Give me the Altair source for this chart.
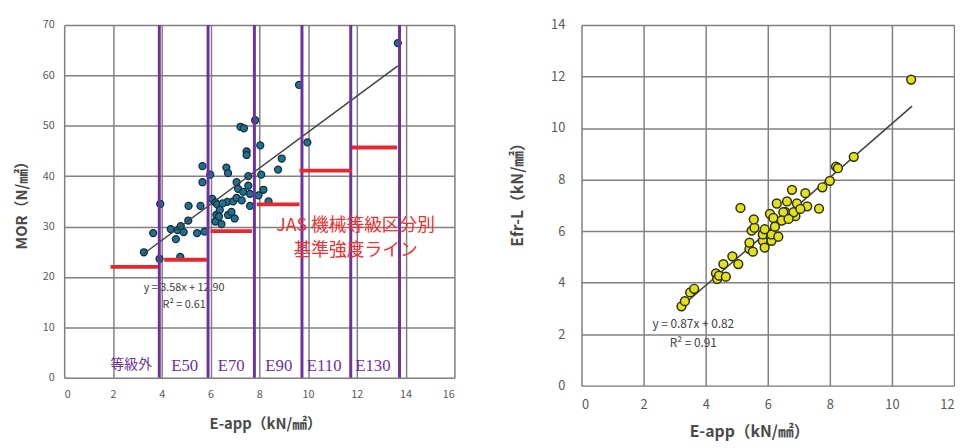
import altair as alt
import pandas as pd

# ---- Left panel: MOR vs E-app ----
mor_x = [3.27, 3.65, 3.91, 3.94, 4.37, 4.58, 4.65, 4.76, 4.78, 4.90, 5.09, 5.10, 5.45, 5.59,
         5.67, 5.67, 5.75, 5.99, 6.07, 6.20, 6.28, 6.24, 6.20, 6.38, 6.45, 6.65, 6.72, 6.69,
         6.72, 6.86, 6.99, 6.93, 7.07, 7.07, 7.13, 7.23, 7.37, 7.34, 7.28, 7.48, 7.48, 7.55,
         7.55, 7.62, 7.62, 7.83, 7.97, 8.04, 8.08, 8.17, 8.38, 8.77, 8.92, 9.63, 9.97, 13.68,
         6.50, 6.35]
mor_y = [24.9, 28.7, 23.6, 34.5, 29.5, 27.5, 29.3, 24.0, 30.1, 28.9, 31.2, 34.1, 28.7, 34.1,
         38.8, 42.0, 29.0, 40.3, 35.5, 34.8, 34.4, 32.3, 31.0, 33.3, 30.5, 41.7, 40.6, 34.9,
         32.3, 32.9, 31.6, 35.0, 35.7, 38.8, 37.5, 49.8, 49.5, 36.9, 35.2, 44.9, 44.2, 40.0,
         38.1, 36.5, 34.1, 51.1, 36.2, 46.1, 40.3, 37.3, 35.0, 41.3, 43.5, 58.1, 46.7, 66.4,
         34.6, 32.0]
mor_trend_x = [3.26, 13.68]
mor_trend_y = [24.6, 61.9]

grade_bounds = [3.9, 5.9, 7.8, 9.75, 11.75, 13.75]
grade_names = ["E50", "E70", "E90", "E110", "E130"]
grade_label_x = [4.94, 6.85, 8.8, 10.66, 12.66]
grade_label_y = [2.3, 2.3, 2.3, 2.3, 2.3]
outside_name = ["等級外"]
outside_x = [2.75]
outside_y = [2.6]
std_x1 = [1.9, 4.1, 6.0, 7.9, 9.65, 11.8]
std_x2 = [3.85, 5.85, 7.7, 9.65, 11.8, 13.65]
std_y = [22.0, 23.4, 29.1, 34.4, 41.1, 45.7]

# ---- Right panel: Efr-L vs E-app ----
efr_x = [3.22, 3.33, 3.50, 3.63, 4.33, 4.37, 4.43, 4.65, 4.57, 5.05, 4.86, 5.41, 5.52, 5.41,
         5.48, 5.57, 5.84, 5.90, 6.12, 5.84, 6.12, 5.90, 6.23, 6.34, 6.07, 6.18, 6.56, 6.89,
         6.29, 6.62, 6.94, 7.27, 7.65, 6.78, 7.21, 7.76, 8.00, 8.20, 8.26, 8.77, 10.62, 5.12,
         6.50, 6.83, 7.05, 6.45, 6.67, 5.55]
efr_y = [3.08, 3.28, 3.62, 3.76, 4.36, 4.14, 4.27, 4.23, 4.72, 4.72, 5.02, 5.30, 5.20, 5.55,
         6.02, 6.13, 5.62, 5.36, 5.62, 5.87, 5.87, 6.07, 6.17, 5.78, 6.67, 6.51, 6.74, 6.58,
         7.07, 7.15, 7.07, 6.96, 6.87, 7.60, 7.47, 7.70, 7.95, 8.50, 8.44, 8.88, 11.88, 6.90,
         6.73, 6.73, 6.86, 6.41, 6.47, 6.45]
efr_trend_x = [3.2, 10.65]
efr_trend_y = [3.05, 10.85]

FONT = "Noto Sans CJK JP"
SERIF = "Liberation Serif, Noto Sans CJK JP"
PURPLE = "#7030a0"
RED = "#e8262e"

# ---------------- left chart ----------------
lx_axis = alt.Axis(values=list(range(0, 17, 2)), title="E-app（kN/㎟）", grid=True, ticks=False,
                   domain=False, labelFontSize=11, labelColor="#595959", labelPadding=11,
                   titleFontSize=15, titleColor="#4a4a4a", titleFontWeight="bold",
                   titlePadding=17, titleX=204, gridColor="#808080", gridWidth=1.5,
                   labelFont=FONT, titleFont=FONT)
ly_axis = alt.Axis(values=list(range(0, 71, 10)), title="MOR（N/㎟）", grid=True, ticks=False,
                   domain=False, labelFontSize=11, labelColor="#595959", labelPadding=10,
                   titleFontSize=15, titleColor="#4a4a4a", titleFontWeight="bold",
                   titlePadding=13, gridColor="#808080", gridWidth=1.5,
                   labelFont=FONT, titleFont=FONT)
lxs = alt.Scale(domain=[0, 16], nice=False)
lys = alt.Scale(domain=[0, 70], nice=False)

mor_df = pd.DataFrame({"x": mor_x, "y": mor_y})
mor_tr = pd.DataFrame({"x": mor_trend_x, "y": mor_trend_y})
bounds_df = pd.DataFrame({"x": grade_bounds})
glab_df = pd.DataFrame({"x": grade_label_x, "y": grade_label_y, "t": grade_names})
out_df = pd.DataFrame({"x": outside_x, "y": outside_y, "t": outside_name})
std_df = pd.DataFrame({"x": std_x1, "x2": std_x2, "y": std_y})
eq_l = pd.DataFrame({"x": [4.92, 4.92], "y": [17.8, 14.5], "t": ["y = 3.58x + 12.90", "R² = 0.61"]})
jas_df = pd.DataFrame({"x": [11.95, 11.95], "y": [30.0, 25.2], "t": ["JAS 機械等級区分別", "基準強度ライン"]})

def LX(f="x"):
    return alt.X(f"{f}:Q", scale=lxs, axis=lx_axis)

def LY(f="y"):
    return alt.Y(f"{f}:Q", scale=lys, axis=ly_axis)

l_pts = alt.Chart(mor_df).mark_point(filled=True, size=50, fill="#23708e", stroke="#0d2f40",
                                     strokeWidth=1.3, opacity=1).encode(x=LX(), y=LY())
l_tr = alt.Chart(mor_tr).mark_line(color="#404040", strokeWidth=1.5).encode(x=LX(), y=LY())
l_eq = alt.Chart(eq_l).mark_text(font=FONT, fontSize=11, color="#404040").encode(
    x=LX(), y=LY(), text="t:N")
l_bounds = alt.Chart(bounds_df).mark_rule(color=PURPLE, strokeWidth=3).encode(x=LX())
l_std = alt.Chart(std_df).mark_rule(color=RED, strokeWidth=4).encode(x=LX(), x2="x2:Q", y=LY())
l_jas = alt.Chart(jas_df).mark_text(font=FONT, fontSize=18, color="#ee3030", lineHeight=18).encode(
    x=LX(), y=LY(), text="t:N")
l_glab = alt.Chart(glab_df).mark_text(font=SERIF, fontSize=17, color=PURPLE).encode(
    x=LX(), y=LY(), text="t:N")
l_out = alt.Chart(out_df).mark_text(font=FONT, fontSize=14, color=PURPLE).encode(
    x=LX(), y=LY(), text="t:N")

left = alt.layer(l_pts, l_tr, l_eq, l_bounds, l_std, l_jas, l_glab, l_out).properties(
    width=396, height=358)

# ---------------- right chart ----------------
rx_axis = alt.Axis(values=list(range(0, 13, 2)), title="E-app（kN/㎟）", grid=True, ticks=False,
                   domain=False, labelFontSize=13, labelColor="#595959", labelPadding=13,
                   titleFontSize=16, titleColor="#4a4a4a", titleFontWeight="bold",
                   titlePadding=13, titleX=170, gridColor="#808080", gridWidth=1.5,
                   labelFont=FONT, titleFont=FONT)
ry_axis = alt.Axis(values=list(range(0, 15, 2)), title="Efr-L（kN/㎟）", grid=True, ticks=False,
                   domain=False, labelFontSize=13, labelColor="#595959", labelPadding=17,
                   titleFontSize=16, titleColor="#4a4a4a", titleFontWeight="bold",
                   titlePadding=25, titleY=168, gridColor="#808080", gridWidth=1.5,
                   labelFont=FONT, titleFont=FONT)
rxs = alt.Scale(domain=[0, 12], nice=False)
rys = alt.Scale(domain=[0, 14], nice=False)

def RX(f="x"):
    return alt.X(f"{f}:Q", scale=rxs, axis=rx_axis)

def RY(f="y"):
    return alt.Y(f"{f}:Q", scale=rys, axis=ry_axis)

efr_df = pd.DataFrame({"x": efr_x, "y": efr_y})
efr_tr = pd.DataFrame({"x": efr_trend_x, "y": efr_trend_y})
eq_r = pd.DataFrame({"x": [3.6, 3.6], "y": [2.38, 1.64], "t": ["y = 0.87x + 0.82", "R² = 0.91"]})

r_tr = alt.Chart(efr_tr).mark_line(color="#404040", strokeWidth=1.5).encode(x=RX(), y=RY())
r_pts = alt.Chart(efr_df).mark_point(filled=True, size=80, fill="#e2e21a", stroke="#2e2e10",
                                     strokeWidth=1.5, opacity=1).encode(x=RX(), y=RY())
r_eq = alt.Chart(eq_r).mark_text(font=FONT, fontSize=12, color="#404040").encode(
    x=RX(), y=RY(), text="t:N")

right = alt.layer(r_tr, r_pts, r_eq).properties(width=378, height=366)

chart = alt.hconcat(left, right, spacing=55).properties(
    padding={"left": 6, "top": 7, "right": 0, "bottom": 0}
).configure_view(stroke="#404040", strokeWidth=1.5).configure(background="white")

chart.save("out.html", embed_options={"renderer": "svg", "actions": False})
